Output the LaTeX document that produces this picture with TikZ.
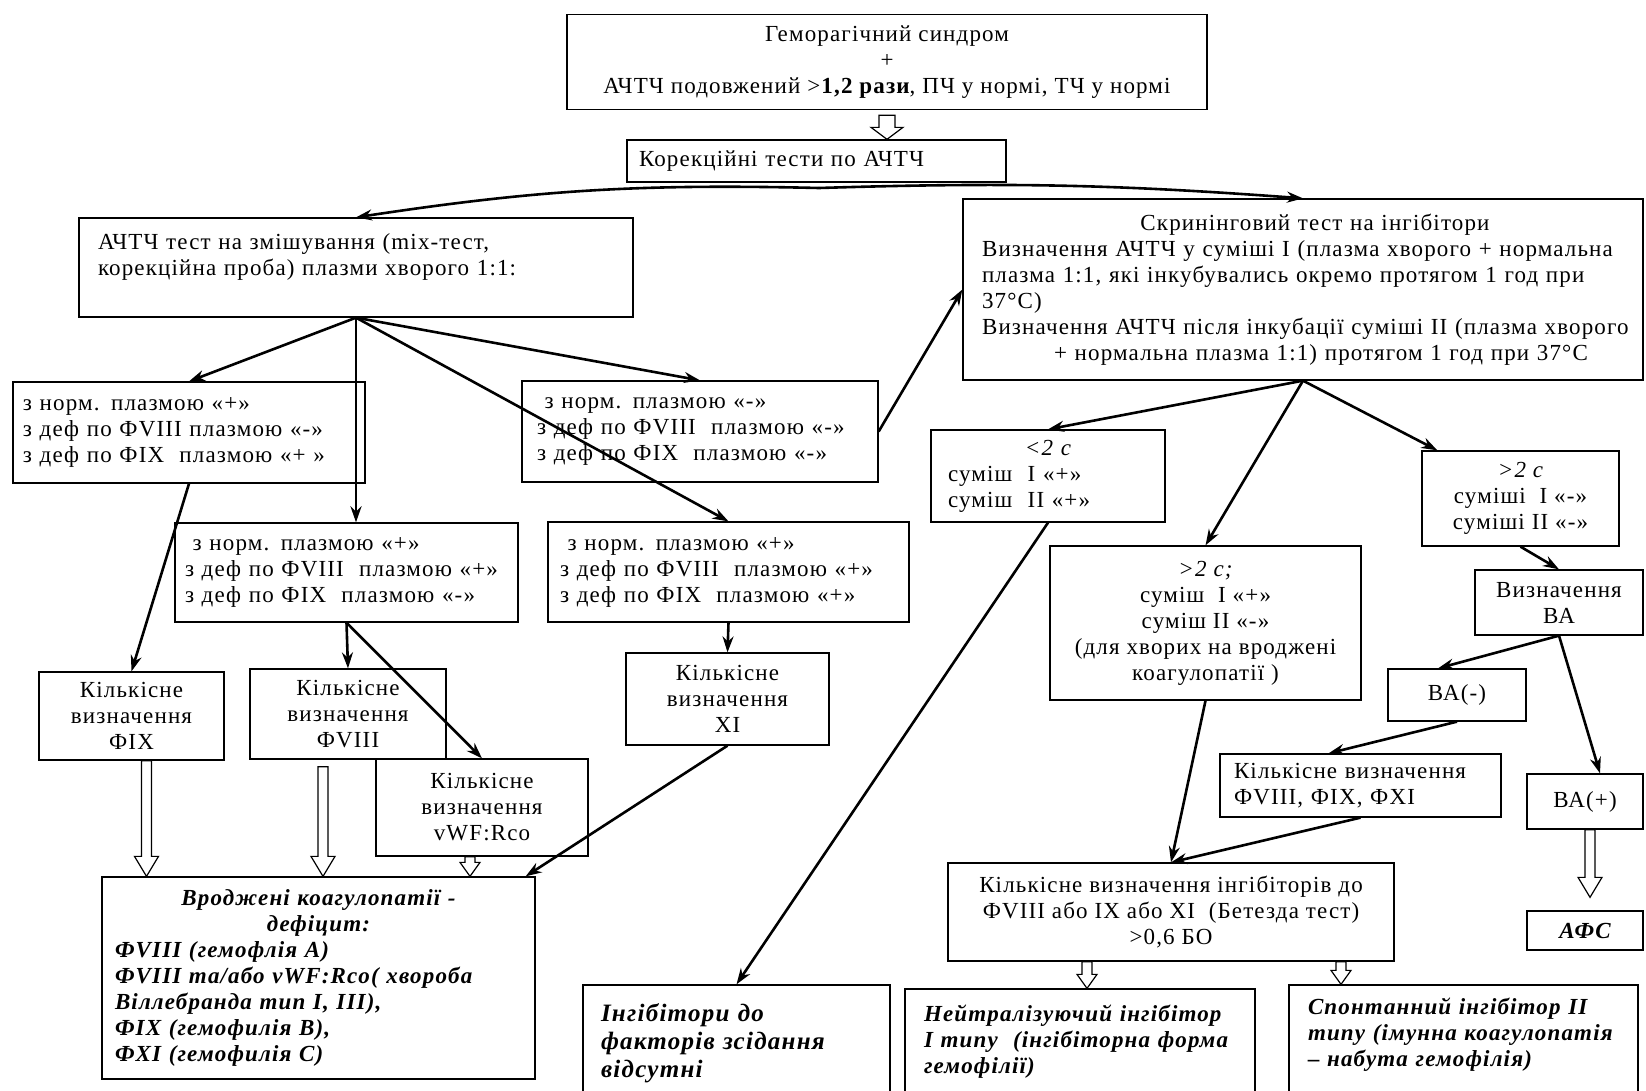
\documentclass[tikz,border=0pt]{standalone}
\usepackage{fontspec}
\setmainfont{Liberation Serif}[LetterSpace=5]
\usetikzlibrary{positioning,calc,arrows.meta}
\newcommand{\boxfont}{\fontsize{23}{26}\selectfont}
\tikzset{>={Stealth[length=16pt,width=11pt]}}
\tikzset{
  box/.style={draw, line width=1.3pt, fill=white, inner xsep=12pt, inner ysep=0pt, font=\boxfont},
  arr/.style={->, line width=2.6pt},
  hollow/.style={draw, fill=white, line width=1.2pt},
}
% vertical block arrow: start, end, half stem, half head, head length
\newcommand{\hollowarrow}[5]{%
  \draw[hollow] let \p1=#1, \p2=#2 in
    (\x1-#3,\y1) -- (\x1-#3,\y2+#5) -- (\x1-#4,\y2+#5) -- (\x1,\y2)
    -- (\x1+#4,\y2+#5) -- (\x1+#3,\y2+#5) -- (\x1+#3,\y1) -- cycle;}

\begin{document}
\begin{tikzpicture}[x=1pt,y=-1pt]
\fill[white] (0,0) rectangle (1646,1090);
\useasboundingbox (0,0) rectangle (1646,1090);

% top part
\node[box, minimum width=640pt, minimum height=95pt, align=center] (top) at (887,62)
  {Геморагічний синдром\\+\\АЧТЧ подовжений >\textbf{1,2 рази}, ПЧ у нормі, ТЧ у нормі};
\node[box, minimum width=379pt, minimum height=42pt, text width=355pt, align=left] (korek) at (816.5,161)
  {Корекційні тести по АЧТЧ};
\coordinate (split) at (819,188);

% left branch
\node[box, inner xsep=19pt, minimum height=99pt, text width=516pt, align=left] (mix) at (356,267.5)
  {АЧТЧ тест на змішування (mix-тест,\\корекційна проба) плазми хворого 1:1:\\ \mbox{}};
\node[box, inner xsep=10pt, minimum height=101pt, text width=332pt, align=left] (L1) at (189,432.5)
  {з норм. плазмою «+»\\з деф по ФVIII плазмою «-»\\з деф по ФIX \ плазмою «+ »};
\node[box, inner xsep=15pt, minimum height=101pt, text width=326pt, align=left] (R1) at (700,431.5)
  {\ з норм. плазмою «-»\\з деф по ФVIII \ плазмою «-»\\з деф по ФIX \ плазмою «-»};
\node[box, inner xsep=10pt, minimum height=99pt, text width=323pt, align=left] (M1) at (346.5,572.5)
  {\ з норм. плазмою «+»\\з деф по ФVIII \ плазмою «+»\\з деф по ФIX \ плазмою «-»};
\node[box, inner xsep=12pt, minimum height=100pt, text width=337pt, align=left] (R2) at (728.5,572)
  {\ з норм. плазмою «+»\\з деф по ФVIII \ плазмою «+»\\з деф по ФIX \ плазмою «+»};
\node[box, minimum width=185pt, minimum height=88pt, align=center] (fix) at (131.5,716)
  {Кількісне\\визначення\\ФIX};
\node[box, minimum width=196pt, minimum height=90pt, align=center] (f8) at (348,714)
  {Кількісне\\визначення\\ФVIII};
\node[box, minimum width=212pt, minimum height=97pt, align=center] (vwf) at (482,807.5)
  {Кількісне\\визначення\\vWF:Rco};
\node[box, minimum width=203pt, minimum height=92pt, align=center] (xi) at (727.5,699)
  {Кількісне\\визначення\\XI};
\node[box, inner xsep=13pt, minimum height=202pt, text width=407pt, align=left, font=\boxfont\bfseries\itshape] (vroj) at (318.5,978)
  {\makebox[\linewidth][c]{Вроджені коагулопатії -}\\\makebox[\linewidth][c]{дефіцит:}\\
   ФVIII (гемофлія А)\\ФVIII та/або vWF:Rco( хвороба\\Віллебранда тип I, III),\\
   ФIX (гемофилія В),\\ФXI (гемофилія С)};

% right branch
\node[box, inner xsep=10pt, minimum height=181pt, text width=660pt, align=left] (scr) at (1303,289.5)
  {\makebox[\linewidth][c]{\hspace*{24pt}Скринінговий тест на інгібітори}\\
   \hspace*{9pt}Визначення АЧТЧ у суміші I (плазма хворого + нормальна\\
   \hspace*{9pt}плазма 1:1, які інкубувались окремо протягом 1 год при\\
   \hspace*{9pt}37°С)\\
   \hspace*{9pt}Визначення АЧТЧ після інкубації суміші II (плазма хворого\\
   \makebox[\linewidth][c]{\hspace*{36pt}+ нормальна плазма 1:1) протягом 1 год при 37°С}};
\node[box, inner xsep=17pt, minimum height=92pt, text width=200pt, align=left] (lt2) at (1048,476)
  {\makebox[\linewidth][c]{\itshape <2 с}\\суміш \ I «+»\\суміш \ II «+»};
\node[box, minimum width=311pt, minimum height=154pt, align=center] (gt2a) at (1205.5,623)
  {\itshape >2 с;\\суміш \ I «+»\\суміш II «-»\\(для хворих на вроджені\\коагулопатії )};
\node[box, minimum width=197pt, minimum height=95pt, align=center] (gt2b) at (1520.5,498.5)
  {\itshape >2 с\\суміші \ I «-»\\суміші II «-»};
\node[box, minimum width=168pt, minimum height=65pt, align=center] (va) at (1559,602.5)
  {Визначення\\ВА};
\node[box, minimum width=138pt, minimum height=52pt, align=center] (vaneg) at (1457,695)
  {ВА(-)};
\node[box, minimum width=116pt, minimum height=55pt, align=center] (vapos) at (1585,801.5)
  {ВА(+)};
\node[box, inner xsep=14pt, minimum height=63pt, text width=253pt, align=left] (kf) at (1360.5,785.5)
  {Кількісне визначення\\ФVIII, ФIX, ФXI};
\node[box, minimum width=446pt, minimum height=98pt, align=center] (kinh) at (1171,912)
  {Кількісне визначення інгібіторів до\\ФVIII або IX або XI \ (Бетезда тест)\\>0,6 БО};
\node[box, minimum width=116pt, minimum height=39pt, align=center, font=\boxfont\bfseries\itshape] (afs) at (1585,930.5)
  {АФС};

% bottom boxes
\node[box, inner xsep=18pt, minimum height=140pt, text width=271pt, align=left, font=\fontsize{25}{28}\selectfont\bfseries\itshape] (absent) at (736.5,1055)
  {Інгібітори до\\факторів зсідання\\відсутні\\ \mbox{}};
\node[box, inner xsep=19pt, minimum height=127pt, text width=312pt, align=left, font=\boxfont\bfseries\itshape] (neut) at (1080,1052.5)
  {Нейтралізуючий інгібітор\\I типу \ (інгібіторна форма\\гемофілії)\\ \mbox{}};
\node[box, inner xsep=19pt, minimum height=120pt, text width=311pt, align=left, font=\boxfont\bfseries\itshape] (spont) at (1463.5,1045)
  {Спонтанний інгібітор II\\типу (імунна коагулопатія\\– набута гемофілія)\\ \mbox{}};

% connectors
\draw[arr] (split) to[bend right=5] (mix.north);
\draw[arr] (split) to[bend left=3] (scr.north);
\draw[arr] (mix.south) -- (L1.north);
\draw[arr] (mix.south) -- (mix.south |- M1.north);
\draw[arr] (mix.south) -- (R1.north);
\draw[arr] (mix.south) -- (R2.north);
\draw[arr] (R1.east) -- (scr.west);
\draw[arr] (L1.south) -- (fix.north);
\draw[arr] (M1.south) -- (f8.north);
\draw[arr] (M1.south) -- (vwf.north);
\draw[arr] (R2.south) -- (xi.north);
\draw[arr] (xi.south) -- ([xshift=-10pt]vroj.north east);
\draw[arr] (scr.south) -- (lt2.north);
\draw[arr] (scr.south) -- (gt2a.north);
\draw[arr] (scr.south) -- ([xshift=16pt]gt2b.north west);
\draw[arr] (lt2.south) -- (absent.north);
\draw[arr] (gt2a.south) -- (kinh.north);
\draw[arr] (gt2b.south) -- (va.north);
\draw[arr] (va.south) -- ([xshift=-19pt]vaneg.north);
\draw[arr] (va.south) -- ([xshift=15pt]vapos.north);
\draw[arr] (vaneg.south) -- ([xshift=-32pt]kf.north);
\draw[arr] (kf.south) -- (kinh.north);

% block arrows
\hollowarrow{([yshift=-5pt]top.south)}{(korek.north)}{8pt}{16pt}{12pt}
\hollowarrow{([xshift=15pt]fix.south)}{(vroj.north)}{5pt}{12pt}{20pt}
\hollowarrow{([xshift=-25pt,yshift=-7pt]f8.south)}{(vroj.north)}{5pt}{12pt}{20pt}
\hollowarrow{([xshift=-12pt]vwf.south)}{(vroj.north)}{5pt}{10pt}{14pt}
\hollowarrow{([xshift=5pt]vapos.south)}{([yshift=13pt]afs.north)}{5pt}{12pt}{20pt}
\hollowarrow{([xshift=-84pt]kinh.south)}{(neut.north)}{5pt}{10pt}{14pt}
\hollowarrow{([xshift=170pt]kinh.south)}{(spont.north)}{5pt}{10pt}{14pt}
\end{tikzpicture}
\end{document}
